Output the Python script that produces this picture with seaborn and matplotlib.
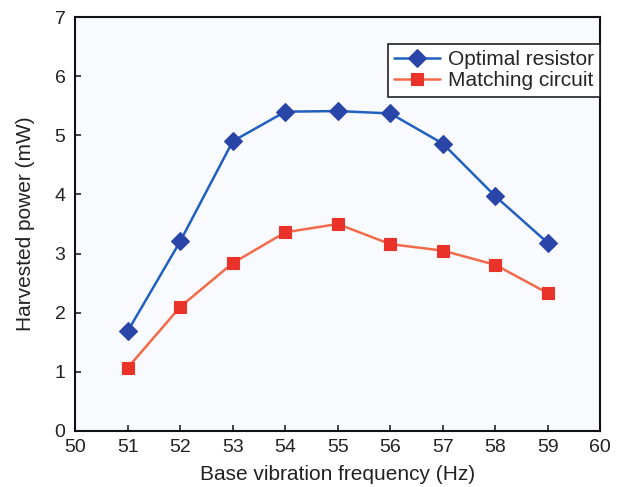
import matplotlib
matplotlib.use("Agg")
import matplotlib.pyplot as plt
import seaborn as sns
import pandas as pd

freq = [51, 52, 53, 54, 55, 56, 57, 58, 59]
optimal_resistor = [1.69, 3.21, 4.90, 5.40, 5.41, 5.37, 4.86, 3.97, 3.18]
matching_circuit = [1.07, 2.10, 2.84, 3.36, 3.50, 3.16, 3.05, 2.81, 2.33]
xticks = [50, 51, 52, 53, 54, 55, 56, 57, 58, 59, 60]
yticks = [0, 1, 2, 3, 4, 5, 6, 7]

df = pd.DataFrame({
    "freq": freq * 2,
    "power": optimal_resistor + matching_circuit,
    "series": ["Optimal resistor"] * len(freq) + ["Matching circuit"] * len(freq),
})

sns.set_style("ticks")
plt.rcParams['font.family'] = ['Liberation Sans', 'DejaVu Sans']

fig = plt.figure(figsize=(6.17, 4.87), dpi=100)
ax = fig.add_axes([0.122, 0.115, 0.851, 0.85])
ax.set_facecolor("#f9fafd")

palette = {"Optimal resistor": "#2060c0", "Matching circuit": "#f26a4a"}
sns.lineplot(data=df, x="freq", y="power", hue="series", style="series",
             markers={"Optimal resistor": "D", "Matching circuit": "s"},
             dashes=False, palette=palette, ax=ax, linewidth=1.8,
             markersize=9, markeredgewidth=0.8)

mfcs = ["#2a45a8", "#e8322a"]
for line, mfc in zip(ax.lines[:2], mfcs):
    line.set_markerfacecolor(mfc)
    line.set_markeredgecolor(mfc)

ax.set_xlim(50, 60)
ax.set_ylim(0, 7)
ax.set_xticks(xticks)
ax.set_yticks(yticks)
ax.tick_params(direction="in", length=4, width=1.2, labelsize=14, colors="#222222")
ax.tick_params(axis="x", pad=6)
ax.tick_params(axis="y", pad=7)
for s in ax.spines.values():
    s.set_visible(True)
    s.set_linewidth(1.5)
    s.set_color("#111111")
ax.set_xlabel("Base vibration frequency (Hz)", fontsize=15, color="#222222", labelpad=6)
ax.set_ylabel("Harvested power (mW)", fontsize=15, color="#222222", labelpad=14)

handles, labels = ax.get_legend_handles_labels()
for h, mfc in zip(handles, mfcs):
    h.set_markerfacecolor(mfc)
    h.set_markeredgecolor(mfc)
leg = ax.legend(handles, labels, loc="upper right", bbox_to_anchor=(1.0, 0.935),
                fontsize=15, frameon=True, fancybox=False, framealpha=1,
                edgecolor="#222222", borderpad=0.3, handlelength=2.2,
                labelspacing=0.1, handletextpad=0.4, borderaxespad=0.0)
leg.get_frame().set_linewidth(1.2)

fig.savefig("out.png", dpi=100, facecolor="white")
